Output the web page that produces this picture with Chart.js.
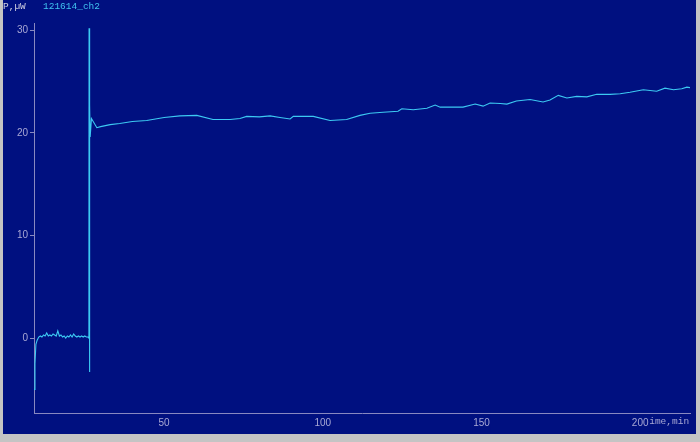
<!DOCTYPE html>
<html>
<head>
<meta charset="utf-8">
<script src="https://cdn.jsdelivr.net/npm/chart.js@4/dist/chart.umd.min.js"></script>
<style>
  html, body { margin: 0; padding: 0; background: #c4c4c4; }
  body { width: 700px; height: 442px; position: relative; overflow: hidden; }
  #wrap { position: absolute; left: 3px; top: 0; width: 693px; height: 434px; background: #001080; }
</style>
</head>
<body>
<div id="wrap"><canvas id="chart"></canvas></div>
<script>
// time, min
const timeMin = [
  9.0, 9.3, 9.6, 10.0, 10.5, 11.0, 11.5, 12.0, 12.5, 13.0, 13.5, 14.0, 14.5, 15.0, 15.5,
  16.0, 16.5, 17.0, 17.5, 18.0, 18.5, 19.0, 19.5, 20.0, 20.5, 21.0, 21.5, 22.0, 22.5,
  23.0, 23.5, 24.0, 24.5, 25.0, 25.5, 26.0, 26.3, 26.35, 26.45, 26.6, 26.7, 27.1, 28.8,
  30, 33, 36, 40, 44.5, 50, 55, 60.3, 65.4, 70.8, 73.9, 76, 80, 83.4, 86.5, 89.7, 90.7, 97, 102.3,
  107.5, 111.7, 114.9, 119, 123.7, 124.9, 128.5, 132.8, 135.4, 137, 140, 144.2, 148, 150.5,
  152.7, 155.9, 158, 161, 165.3, 169.4, 171.6, 174.2, 176.9, 180, 183.2, 186.3, 190.5,
  193.7, 196.8, 201, 205.2, 207.8, 210.5, 213.1, 214.7, 215.7
];
// P, uW
const power = [
  -5.0, -2.5, -0.6, -0.2, 0.1, 0.2, 0.1, 0.3, 0.2, 0.5, 0.2, 0.3, 0.2, 0.4, 0.3,
  0.2, 0.7, 0.2, 0.3, 0.1, 0.2, 0.0, 0.2, 0.1, 0.3, 0.1, 0.4, 0.2, 0.1,
  0.2, 0.1, 0.2, 0.1, 0.2, 0.1, 0.1, 0.0, 30.2, -3.3, 22.7, 19.6, 21.4, 20.5,
  20.6, 20.8, 20.9, 21.1, 21.2, 21.5, 21.65, 21.7, 21.3, 21.3, 21.4, 21.6, 21.55, 21.65, 21.5, 21.35, 21.6, 21.6, 21.2,
  21.3, 21.7, 21.9, 22.0, 22.1, 22.35, 22.25, 22.4, 22.7, 22.5, 22.5, 22.5, 22.8, 22.6,
  22.9, 22.85, 22.8, 23.1, 23.25, 23.0, 23.2, 23.65, 23.4, 23.55, 23.5, 23.75, 23.75,
  23.8, 23.95, 24.2, 24.05, 24.35, 24.2, 24.3, 24.45, 24.4
];
const xTicks = [50, 100, 150, 200];
const yTicks = [0, 10, 20, 30];
const yLabel = "P,\u00b5W";
const seriesName = "121614_ch2";
const xLabel = "Time,min";

const axisColor = "#8888c0";
const labelColor = "#a8a8d4";

const textPlugin = {
  id: "texts",
  beforeDraw(chart) {
    const ctx = chart.ctx;
    ctx.save();
    ctx.textBaseline = "middle";
    ctx.font = "9.5px 'Liberation Mono'";
    ctx.fillStyle = "#d0d0e0";
    ctx.fillText(yLabel, 0, 6);
    ctx.fillStyle = "#40c4f0";
    ctx.fillText(seriesName, 40, 6);
    ctx.fillStyle = labelColor;
    ctx.fillText(xLabel, 640.5, 421.5);
    ctx.restore();
  }
};

new Chart(document.getElementById("chart"), {
  type: "line",
  data: {
    datasets: [{
      data: timeMin.map((t, i) => ({ x: t, y: power[i] })),
      borderColor: "#3ccaf2",
      borderWidth: 1.1,
      pointRadius: 0,
      tension: 0
    }]
  },
  options: {
    responsive: true,
    maintainAspectRatio: false,
    animation: false,
    layout: { padding: { top: 23, right: 6, left: 0, bottom: 0 } },
    plugins: { legend: { display: false }, tooltip: { enabled: false } },
    scales: {
      x: {
        type: "linear",
        min: 9,
        max: 215.7,
        afterFit(s) { s.height = 21; },
        afterBuildTicks(s) { s.ticks = xTicks.map(v => ({ value: v })); },
        grid: { color: "transparent", tickColor: axisColor, tickLength: 2 },
        border: { color: axisColor, width: 1 },
        ticks: {
          color: labelColor,
          font: { family: "'Liberation Sans'", size: 10 },
          padding: 2,
          maxRotation: 0,
          showLabelBackdrop: true,
          backdropColor: "#001080",
          backdropPadding: { top: 3, bottom: 4, left: 1, right: 1 }
        }
      },
      y: {
        min: -7.3,
        max: 30.7,
        afterFit(s) { s.width = 31; },
        afterBuildTicks(s) { s.ticks = yTicks.map(v => ({ value: v })); },
        grid: { color: "transparent", tickColor: axisColor, tickLength: 4 },
        border: { color: axisColor, width: 1 },
        ticks: {
          color: labelColor,
          font: { family: "'Liberation Sans'", size: 10 },
          padding: 2
        }
      }
    }
  },
  plugins: [textPlugin]
});
</script>
</body>
</html>
